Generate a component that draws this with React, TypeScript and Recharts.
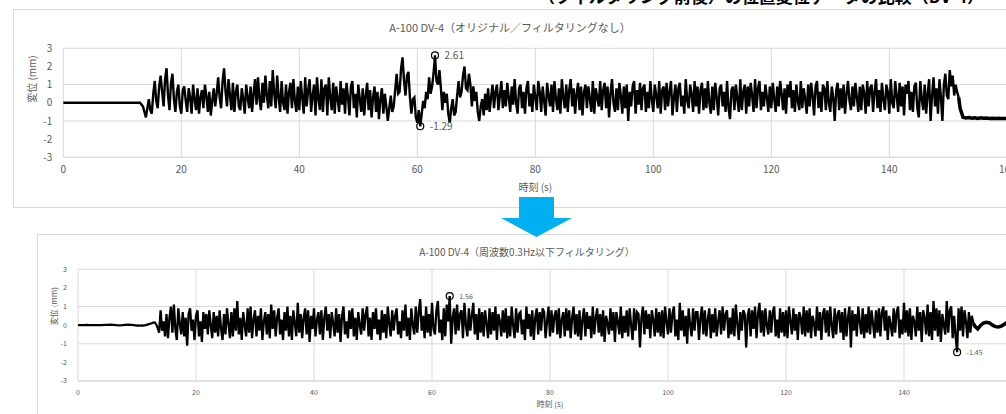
import { LineChart, Line, XAxis, YAxis, CartesianGrid, ReferenceDot } from 'recharts'

const xTicks = [0, 20, 40, 60, 80, 100, 120, 140, 160]
const yTicks = [-3, -2, -1, 0, 1, 2, 3]

// --- original signal (top chart) ---
// 0 .. 13 s, every 0.5 s
const origQuiet = [0, 0, 0, 0, 0, 0, 0, 0, 0, 0, 0, 0, 0, 0, 0, 0, 0, 0, 0, 0, 0, 0, 0, 0, 0, 0, 0]
// 13.5 .. 21.75 s, every 0.25 s
const origRamp = [
  -0.2, -0.5, -0.8, -0.3, 0.2, -0.4, -0.6, 0.5, 1.2, 0.1, -0.3, 0.9, 1.5, 0.6, -0.2, 1.3,
  1.9, 0.4, -0.4, 1.1, 1.6, 0.2, -0.5, 0.6, 1.0, -0.2, -0.6, 0.7, 0.9, 0.1, -0.5, 0.8, 0.3, -0.6,
]
// 22 .. 54.75 s, every 0.25 s
const origA = [
  1.0, 0.2, -0.4, 0.8, -0.6, 0.3, 0.7, -0.3, 1.0, 0.4, -0.5, 0.6, -0.7, 0.1, 0.8, -0.2,
  0.5, 1.4, 0.3, -0.3, 1.2, 1.9, 0.6, -0.2, 1.3, 0.4, -0.4, 1.1, -0.5, 0.6, 1.0, -0.2,
  -0.4, 0.8, 0.2, -0.6, 1.0, 0.3, -0.3, 0.9, -0.5, 0.5, 1.3, -0.1, 1.4, 0.2, -0.4, 1.1,
  0.0, 1.5, 0.4, -0.3, 1.2, -0.2, 1.8, 0.5, -0.3, 1.5, 0.3, -0.5, 1.2, 0.0, -0.4, 1.0,
  -0.6, 0.6, 1.1, -0.3, 1.3, 0.1, -0.5, 0.9, -0.4, 1.2, 0.3, -0.6, 1.4, -0.2, 0.7, 1.3,
  -0.5, 0.4, 1.0, -0.7, 1.4, 0.2, -0.4, 1.3, -0.5, 0.8, 1.0, -0.7, 1.4, 0.3, -0.4, 1.1,
  -0.6, 0.9, 0.2, -0.5, 1.2, -0.1, 0.8, -0.6, 1.1, 0.3, -0.7, 0.9, 1.2, -0.3, 0.5, -0.8,
  1.0, 0.2, -0.5, 0.8, -0.7, 0.4, 1.1, -0.4, 0.7, -0.8, 0.3, 0.9, -0.5, 0.6, -0.9, 0.2,
  0.8, -0.6, 0.5, -0.2,
]
// 55 .. 74.75 s, every 0.25 s (large swings)
const origBurst = [
  -1.0, -0.3, 0.4, -0.5, -0.2, 0.7, 1.6, 0.5, 0.6, 1.9, 2.5, 1.2, 0.4, 1.5, 1.7, 0.3,
  -0.6, 0.2, 0.3, -0.8, -1.1, -0.4, -1.29, -0.6, 0.1, -0.3, 0.6, 0.2, 1.4, 0.5, 0.9, 1.6,
  2.61, 1.2, 1.0, 1.8, 0.8, -0.4, 0.6, 0.0, 0.5, -0.6, -1.1, -0.3, 0.2, -0.7, -0.5, 0.4,
  1.2, 0.3, 0.6, 1.5, 2.0, 0.8, 0.7, 1.6, 1.0, -0.2, 0.9, 0.1, 0.6, -0.5, -1.0, -0.2,
  0.2, -0.7, 0.5, -0.4, 0.8, -0.5, 0.3, 1.0, -0.3, 0.6, 1.0, -0.4, 0.4, 1.2, -0.3, 0.7,
]
// 75 .. 151.75 s, every 0.25 s
const origB = [
  -0.2, 1.1, 0.3, -0.5, 0.9, -0.1, 1.3, 0.0, -0.6, 0.8, 1.0, -0.3, 0.6, -0.6, 0.8, 1.2,
  -0.2, 0.5, -0.5, 1.0, 0.3, -0.4, 1.2, 0.6, -0.5, 0.9, 0.1, -0.7, 1.1, 0.4, -0.2, 1.0,
  -0.5, 1.2, 0.2, -0.4, 0.8, -0.6, 1.3, 0.3, -0.3, 1.0, -0.5, 0.7, 1.3, -0.2, 0.8, -0.6,
  0.5, 1.1, -0.4, 0.9, -0.7, 0.6, 1.0, -0.3, 0.9, 0.2, -0.5, 1.2, -0.6, 0.8, 0.3, -0.2,
  1.2, -0.4, 0.7, 1.1, -0.3, 0.9, -0.8, 0.5, 1.3, 0.0, -0.5, 0.8, -0.4, 1.1, 0.4, -0.6,
  0.9, -0.3, 1.0, -1.0, 0.6, -0.2, 0.9, 1.2, -0.6, 0.7, -0.1, 1.1, -0.4, 0.8, 1.0, -0.5,
  0.6, -0.3, 1.2, 0.2, -0.5, 1.0, 0.4, -0.3, 1.2, -0.6, 0.7, 0.9, -0.4, 1.1, -0.2, 0.6,
  1.2, -0.7, 0.3, 1.0, -0.5, 0.8, 1.1, -0.2, 0.4, -0.6, 1.3, 0.1, -0.3, 1.0, 0.5, -0.5,
  1.2, -0.2, 0.9, -0.6, 0.7, 1.1, -0.4, 0.8, -0.3, 1.2, 0.0, -0.6, 0.9, -0.4, 1.1, 0.3,
  -0.7, 0.8, 1.0, -0.2, 0.6, -0.5, 1.2, -0.3, -0.9, 0.7, 0.9, -0.4, 1.0, 0.2, -0.5, 1.3,
  -0.4, 0.6, 1.0, -0.6, 0.9, -0.2, 1.1, 0.4, -0.5, 1.3, -0.3, 0.8, 1.2, -0.4, 0.6, -0.2,
  1.0, 0.3, -0.5, 0.9, -0.3, 1.1, 0.2, -0.5, 0.9, -0.2, 1.2, 0.5, -0.4, 0.8, -0.6, 1.0,
  0.3, 1.2, -0.3, 0.7, -0.5, 1.0, 0.1, -0.4, 1.2, -0.3, 0.8, 0.2, -0.6, 1.0, -0.2, 1.1,
  0.4, -0.7, 0.9, 1.2, -0.3, 0.6, -0.5, 1.0, 0.8, -0.4, 1.2, 0.0, -0.5, 0.9, 0.3, -1.0,
  0.7, 1.1, -0.4, 0.8, -0.3, 1.0, -0.6, 0.5, 1.2, 0.1, -0.4, 0.9, -0.2, 1.1, 0.3, -0.5,
  0.9, -0.4, 1.0, 0.5, -0.6, 1.2, -0.2, 0.8, 1.0, -0.5, 0.6, 1.3, -0.3, 0.7, -0.5, 1.1,
  0.2, -0.4, 1.0, 0.6, -0.6, 1.3, 0.0, -0.3, 1.2, 0.4, -0.5, 1.1, -0.2, 0.9, -0.7, 1.0,
  0.5, 1.2, -0.4, 0.6, -0.5, 0.9, 1.1, -0.3, -0.8, 1.2, 0.2, -0.4, 1.0, -0.6, 0.5, 1.3,
  -1.0, 0.4, 1.4, -0.2, 0.8, -0.6, 1.3, 0.3, -1.0, 1.0, 1.6, 0.4, 0.2, 1.8, 0.9, 1.5,
  0.4, 1.0, 0.6, 0.3,
]
// 152 .. 160 s, every 0.5 s (settled offset)
const origTail = [-0.3, -0.8, -0.84, -0.81, -0.85, -0.82, -0.86, -0.83, -0.85, -0.84, -0.86, -0.85, -0.87, -0.85, -0.86, -0.86, -0.87]

// --- filtered signal (bottom chart) ---
// 0 .. 12 s, every 0.5 s
const filtQuiet = [0, 0, 0, 0.01, 0, 0, 0, 0, 0, 0.02, 0.02, 0.03, 0.02, 0, -0.01, 0, 0.02, 0.03, 0.02, 0, -0.02, -0.03, -0.02, 0, 0.05]
// 12.5 .. 13.75 s, every 0.25 s
const filtRamp = [0.1, 0.14, 0.15, 0.05, -0.15, -0.4]
// 14 .. 151.75 s, every 0.25 s
const filtNoise = [
  0.8, -0.3, 0.2, -0.6, 0.6, -0.7, 0.4, 1.0, -0.4, 1.1, -0.2, -0.8, 0.9, 0.1, -0.5, 0.7,
  -0.6, 0.4, -1.1, 0.6, 0.9, -0.3, 0.3, -0.8, 0.5, 0.8, -0.6, 0.2, -0.9, 0.7, -0.2, 0.6,
  -0.5, 0.8, 0.0, -0.7, 0.7, -0.4, 0.5, -0.6, 0.8, -0.2, -0.8, 0.6, -0.5, 0.9, 0.1, -0.7,
  0.7, -0.6, 0.9, -0.3, 1.3, -0.5, 0.4, -0.8, 0.7, 0.0, -0.6, 0.9, -0.4, 1.0, -0.7, 0.3,
  0.8, -0.6, 0.5, -0.3, 0.9, -0.8, 0.2, 0.7, -0.5, 0.6, -0.7, 1.1, -0.2, 0.8, -0.6, 0.4,
  0.9, -0.5, 0.3, -0.8, 0.7, -0.3, 1.0, -0.6, 0.5, -0.8, 0.8, 0.1, -0.6, 1.2, -0.4, 0.6,
  -0.7, 0.4, 0.9, -0.5, 0.8, -0.9, 0.5, -0.2, 0.9, -0.6, 0.3, 0.7, -0.5, 0.8, -0.8, 0.4,
  1.0, -0.3, 0.6, -0.7, 0.7, 0.1, -0.6, 0.9, -0.4, 0.6, -0.9, 0.5, 1.0, -0.5, 0.2, -0.7,
  0.8, -0.2, 0.9, -0.6, 0.4, -0.8, 0.7, 0.0, -0.5, 0.9, -0.3, 0.6, 1.0, -0.6, 0.4, -0.8,
  0.7, -0.2, 0.9, -0.5, 0.3, -0.8, 0.8, -0.4, 0.6, -0.7, 1.0, 0.1, -0.6, 0.8, -0.3, 0.5,
  0.9, -0.5, 0.2, -0.7, 0.8, -0.3, 1.1, -0.6, 0.4, -0.8, 0.9, 0.0, -0.5, 1.0, -0.4, 0.7,
  1.4, -0.3, 0.5, -0.7, 1.0, -0.4, 0.6, -0.6, 1.2, -0.2, -0.5, 0.8, 1.3, -0.4, 0.3, -0.8,
  0.9, -0.6, 1.1, 0.2, 1.56, -1.0, 0.4, 0.9, -0.5, 1.1, -0.3, 0.6, 0.8, -0.7, 1.2, 0.0,
  -0.6, 0.9, -0.3, 0.5, 1.2, -0.5, 0.6, -0.8, 0.9, -0.4, 0.7, -0.6, 0.8, 0.1, -0.7, 0.9,
  -0.5, 0.7, -0.3, 1.0, -0.8, 0.6, 0.2, -0.6, 0.8, -0.4, 0.9, -0.7, 0.5, -0.6, 1.0, 0.0,
  -0.7, 0.9, -0.4, 0.6, 0.7, -0.5, 0.3, -0.8, 1.0, -0.2, 0.6, -0.6, 0.8, -0.8, 0.4, 0.9,
  -0.5, 0.7, -0.3, 0.9, 0.7, -0.7, 0.2, 1.0, -0.6, 0.8, -0.4, 0.5, 0.8, -0.5, 0.9, -0.7,
  0.3, 0.7, -0.6, 0.9, -0.3, 0.8, -0.7, 0.4, 1.0, -0.5, 0.6, -0.6, 0.8, -0.8, 0.3, 0.9,
  -0.6, 0.7, -0.2, 0.5, -0.7, 1.0, -0.5, 0.4, 0.9, -0.4, 0.6, -0.6, 0.8, -0.9, 0.5, 0.1,
  -0.5, 0.9, -0.3, 0.7, -0.9, 0.7, 0.2, -0.5, 1.0, -0.7, 0.5, -0.4, 0.8, -0.6, 0.9, 0.0,
  -0.8, 0.9, -0.3, 0.7, 0.6, -1.2, 0.4, 1.0, -0.5, 0.8, -0.2, 0.6, -0.7, 0.8, 0.3, -0.6,
  0.9, -0.4, 0.7, -0.6, 0.8, -0.7, 1.0, 0.2, -0.5, 0.9, -0.4, 0.6, 1.0, -0.6, 0.3, -0.8,
  1.2, -0.3, 0.8, -0.6, 0.5, -1.0, 0.9, 0.0, -0.6, 0.9, -0.3, 0.7, 0.7, -0.8, 0.4, 1.0,
  -0.5, 0.8, -0.6, 0.3, 0.9, -0.7, 0.6, -0.4, 0.9, -0.6, 0.2, 0.8, -0.5, 1.0, -0.3, 0.6,
  0.8, -0.7, 0.4, -0.5, 0.9, -0.6, 1.1, 0.1, -0.8, 0.7, -0.3, 0.8, 0.6, -1.2, 0.5, 0.9,
  -0.6, 0.8, -0.2, 1.0, -0.7, 0.6, 1.2, -0.4, 0.8, -0.6, 0.9, 0.0, -0.5, 0.8, -0.4, 0.7,
  1.0, -0.6, 0.3, -0.7, 0.9, -0.4, 0.7, -0.6, 0.8, -0.7, 1.0, 0.2, -0.5, 0.9, -0.3, 0.6,
  -0.8, 0.7, 0.4, -0.5, 1.0, -0.6, 0.8, -0.4, 0.9, -0.7, 0.5, 0.1, -0.6, 1.0, -0.3, 0.7,
  -0.8, 0.6, 0.9, -0.4, 0.8, -0.6, 1.0, 0.0, -0.7, 0.9, -0.5, 0.6, 0.8, -0.4, 0.7, -0.8,
  0.9, -0.6, 0.4, 1.0, -1.2, 0.8, -0.3, 0.6, -0.6, 1.0, 0.2, -0.5, 0.9, -0.7, 0.6, -0.4,
  1.0, -0.5, 0.8, 0.1, -0.7, 0.8, -0.4, 0.9, -0.6, 0.7, 1.0, -0.3, 0.8, -0.8, 0.5, 0.0,
  -0.6, 0.9, -0.4, 0.7, 1.0, -0.7, 0.3, -0.5, 1.2, -0.4, 0.8, -0.6, 0.9, -0.8, 0.5, 0.2,
  -0.6, 1.0, -0.3, 0.7, -0.9, 0.8, 0.4, -0.5, 1.1, -0.6, 0.7, -0.8, 1.3, -0.3, 0.9, -0.6,
  0.8, -0.9, 0.6, 0.0, -0.5, 1.3, -0.4, 0.8, 1.0, -0.7, 0.5, -0.6, -1.45, 0.9, -0.3, 1.0,
  -0.6, 0.8, 0.2, -0.7, 0.7, -0.4, 0.5, 0.1,
]
// 152 .. 160 s, every 0.5 s (slow residual wave)
const filtTail = [-0.05, -0.2, 0.0, 0.12, 0.15, 0.12, 0.0, -0.08, -0.1, -0.05, 0.05, 0.15, 0.2, 0.15, 0.05, -0.05, -0.1]

type Row = { t: number; v?: number; w?: number }

function rows(start: number, step: number, values: number[]): Row[] {
  return values.map((v, i) => ({ t: +(start + i * step).toFixed(2), v }))
}

// main trace under key v, settled tail under key w (drawn heavier)
function build(main: Row[], tailStart: number, tail: number[]): Row[] {
  const last = main[main.length - 1]
  const tailRows: Row[] = [{ t: last.t, w: last.v }, ...rows(tailStart, 0.5, tail).map((r) => ({ t: r.t, w: r.v }))]
  return [...main, ...tailRows]
}

const origData = build(
  [
    ...rows(0, 0.5, origQuiet),
    ...rows(13.5, 0.25, origRamp),
    ...rows(22, 0.25, origA),
    ...rows(55, 0.25, origBurst),
    ...rows(75, 0.25, origB),
  ],
  152,
  origTail,
)
const filtData = build(
  [...rows(0, 0.5, filtQuiet), ...rows(12.5, 0.25, filtRamp), ...rows(14, 0.25, filtNoise)],
  152,
  filtTail,
)

function extremes(data: Row[]) {
  const pts = data.filter((d) => d.v !== undefined) as { t: number; v: number }[]
  const max = pts.reduce((a, b) => (b.v > a.v ? b : a))
  const min = pts.reduce((a, b) => (b.v < a.v ? b : a))
  return [max, min]
}

const GREY = '#595959'
const GRID = '#d9d9d9'
const FONT = '"Noto Sans CJK JP", "Noto Sans", sans-serif'

interface PanelProps {
  data: Row[]
  width: number
  height: number
  top: number
  yAxisWidth: number
  axisHeight: number
  tick: number
  label: number
  xLabelOffset: number
  yLabelOffset: number
  lineWidth: number
}

function Panel({ data, width, height, top, yAxisWidth, axisHeight, tick, label, xLabelOffset, yLabelOffset, lineWidth }: PanelProps) {
  const marks = extremes(data)
  return (
    <LineChart width={width} height={height} data={data} margin={{ top, right: width - yAxisWidth - 944, left: 0, bottom: 0 }}>
      <CartesianGrid stroke={GRID} strokeWidth={1} />
      <XAxis
        dataKey="t"
        type="number"
        domain={[0, 160]}
        ticks={xTicks}
        height={axisHeight}
        tick={{ fontSize: tick, fill: GREY, fontFamily: FONT }}
        tickLine={false}
        tickMargin={3}
        axisLine={{ stroke: GRID }}
        label={{ value: '時刻 (s)', position: 'insideTop', offset: xLabelOffset, fontSize: label, fill: GREY, fontFamily: FONT }}
      />
      <YAxis
        type="number"
        domain={[-3, 3]}
        ticks={yTicks}
        width={yAxisWidth}
        tick={{ fontSize: tick, fill: GREY, fontFamily: FONT }}
        tickLine={false}
        axisLine={false}
        tickMargin={5}
        label={{ value: '変位 (mm)', angle: -90, position: 'insideLeft', offset: yLabelOffset, fontSize: label, fill: GREY, fontFamily: FONT }}
      />
      <Line dataKey="v" type="linear" stroke="#000" strokeWidth={lineWidth} strokeLinejoin="miter" dot={false} isAnimationActive={false} />
      <Line dataKey="w" type="linear" stroke="#000" strokeWidth={3.5} dot={false} isAnimationActive={false} />
      {marks.map((m) => (
        <ReferenceDot
          key={m.t}
          x={m.t}
          y={m.v}
          r={3.5}
          fill="#fff"
          fillOpacity={0}
          stroke="#000"
          strokeWidth={1.2}
          label={{ value: m.v.toFixed(2), position: 'right', offset: 6, fontSize: tick, fill: GREY, fontFamily: FONT }}
        />
      ))}
    </LineChart>
  )
}

export default function App() {
  return (
    <div style={{ position: 'absolute', left: 0, top: 0, width: 1006, height: 414, overflow: 'hidden', background: '#fff', fontFamily: FONT }}>
      <div style={{ position: 'absolute', left: 538, top: -17, fontSize: 17, fontWeight: 700, color: '#000', whiteSpace: 'nowrap' }}>
        （フィルタリング前後）の位置変位データの比較（DV-4）
      </div>

      <div style={{ position: 'absolute', left: 13, top: 9, width: 1100, height: 197, border: `1px solid ${GRID}` }} />
      <div style={{ position: 'absolute', left: 13, top: 9 }}>
        <Panel data={origData} width={1050} height={198} top={39.3} yAxisWidth={50.3} axisHeight={49.7} tick={10} label={10} xLabelOffset={27} yLabelOffset={19} lineWidth={2.4} />
      </div>
      <div style={{ position: 'absolute', left: 0, width: 1020, top: 19, textAlign: 'center', fontSize: 11, color: GREY, whiteSpace: 'nowrap' }}>
        A-100 DV-4（オリジナル／フィルタリングなし）
      </div>

      <div style={{ position: 'absolute', left: 37, top: 234, width: 1100, height: 200, border: `1px solid ${GRID}` }} />
      <div style={{ position: 'absolute', left: 37, top: 234 }}>
        <Panel data={filtData} width={1045} height={190} top={35.3} yAxisWidth={41} axisHeight={43} tick={7} label={8} xLabelOffset={20} yLabelOffset={17} lineWidth={2.3} />
      </div>
      <div style={{ position: 'absolute', left: 0, width: 1054, top: 244, textAlign: 'center', fontSize: 10, color: GREY, whiteSpace: 'nowrap' }}>
        A-100 DV-4（周波数0.3Hz以下フィルタリング）
      </div>

      <svg width={1006} height={414} style={{ position: 'absolute', left: 0, top: 0 }}>
        <polygon points="519,197 554,197 554,218 572,218 536.5,237 501,218 519,218" fill="#00b0f0" />
      </svg>
    </div>
  )
}
